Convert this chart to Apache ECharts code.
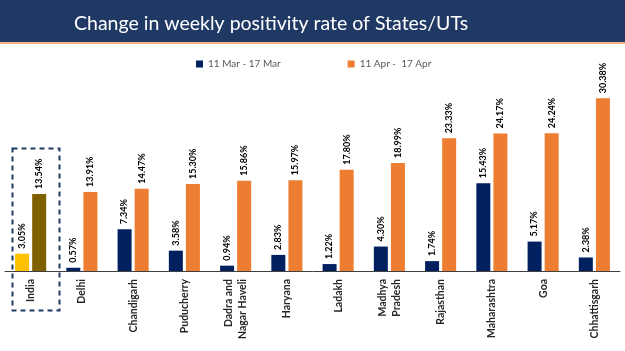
<!DOCTYPE html>
<html><head><meta charset="utf-8">
<script src="https://cdn.jsdelivr.net/npm/echarts@6/dist/echarts.min.js"></script>
<style>html,body{margin:0;padding:0;background:#fff}#c{width:625px;height:351px}</style>
</head><body><div id="c"></div>
<script>
const categories = ['India','Delhi','Chandigarh','Puducherry','Dadra and\nNagar Haveli','Haryana','Ladakh','Madhya\nPradesh','Rajasthan','Maharashtra','Goa','Chhattisgarh'];
const marValues = [3.05,0.57,7.34,3.58,0.94,2.83,1.22,4.30,1.74,15.43,5.17,2.38];
const aprValues = [13.54,13.91,14.47,15.30,15.86,15.97,17.80,18.99,23.33,24.17,24.24,30.38];
const seriesNames = ['11 Mar - 17 Mar','11 Apr -  17 Apr'];

const NAVY='#002060', ORANGE='#ED7D31', YELLOW='#FFC000', OLIVE='#7F6000';
const chart = echarts.init(document.getElementById('c'));
const lbl = {show:true, position:'top', rotate:90, align:'left', verticalAlign:'middle', distance:5,
  fontFamily:'Lato', fontWeight:'bold', fontSize:9, color:'#000',
  formatter:p=>p.value.toFixed(2)+'%'};
chart.setOption({
  animation:false,
  title:{text:'Change in weekly positivity rate of States/UTs', left:69, top:9,
    textStyle:{color:'#fff', fontFamily:'Lato', fontWeight:'normal', fontSize:19.5}},
  graphic:[
    {type:'rect', left:0, top:0, z:-1, shape:{width:625,height:42}, style:{fill:'#203864'}},
    {type:'rect', left:0, top:42, z:-1, shape:{width:625,height:2}, style:{fill:'#F4B183'}},
    {type:'rect', left:10, top:146, z:10, shape:{width:47,height:162}, style:{fill:'none',stroke:'#1F3864',lineWidth:2,lineDash:[5,4]}}
  ],
  legend:{left:191, top:54, itemGap:67, itemWidth:7, itemHeight:7, icon:'rect',
    textStyle:{fontFamily:'Lato', fontSize:10, color:'#595959'}},
  grid:{left:5, right:5, top:72, bottom:80},
  xAxis:{type:'category', data:categories,
    axisLine:{lineStyle:{color:'#404040', width:1}},
    axisTick:{length:4, lineStyle:{color:'#404040'}},
    axisLabel:{rotate:90, margin:8, fontFamily:'Lato', fontWeight:'bold', fontSize:10.5, color:'#262626', lineHeight:14, interval:0}},
  yAxis:{type:'value', min:0, max:35, show:false, splitLine:{show:false}},
  series:[
    {name:seriesNames[0], type:'bar', barWidth:14, barGap:'22%', itemStyle:{color:NAVY},
      data:marValues.map((v,i)=>i===0?{value:v,itemStyle:{color:YELLOW}}:v), label:lbl},
    {name:seriesNames[1], type:'bar', barWidth:14, itemStyle:{color:ORANGE},
      data:aprValues.map((v,i)=>i===0?{value:v,itemStyle:{color:OLIVE}}:v), label:lbl}
  ]
});
</script></body></html>
